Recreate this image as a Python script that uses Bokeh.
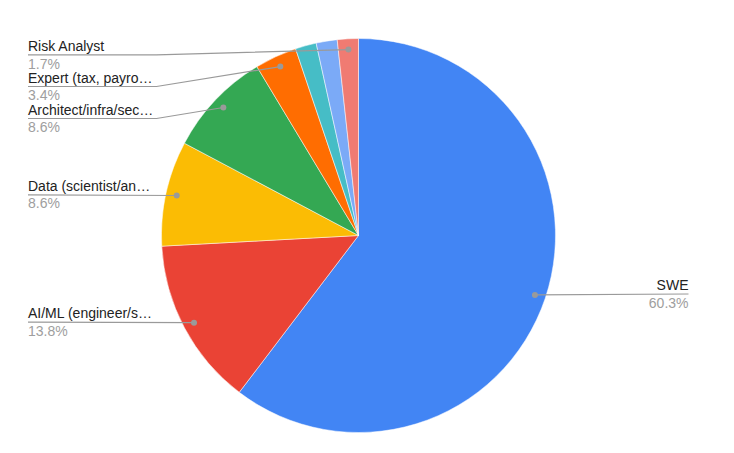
import math
from bokeh.plotting import figure
from bokeh.models import Range1d, ColumnDataSource
from bokeh.embed import file_html
from bokeh.resources import INLINE
from bokeh.core.properties import value

# ---- data ----
categories = ["SWE", "AI/ML (engineer/s…", "Data (scientist/an…", "Architect/infra/sec…",
              "Expert (tax, payro…", "Other A", "Other B", "Risk Analyst"]
counts = [35, 8, 5, 5, 2, 1, 1, 1]
colors = ["#4285F4", "#EA4335", "#FBBC04", "#34A853", "#FF6D01", "#46BDC6", "#7BAAF7", "#F07B72"]
show_label = [True, True, True, True, True, False, False, True]

# ---- layout (image pixels from the top-left of the window) ----
W, H, M = 734, 453, 8
CX, CY, R = 358, 235, 197
DOT_R = 0.945 * R
label_line_y = [293.5, 321.6, 194.3, 118.0, 86.0, None, None, 54.4]
LEFT_X, LEFT_BREAK, RIGHT_X = 27.5, 156, 688
FONT = value("Liberation Sans")
FS = "14px"

def Y(img_y):
    return H - img_y

p = figure(width=W - 2 * M, height=H - 2 * M, output_backend="svg", toolbar_location=None,
           x_range=Range1d(0, W - 2 * M), y_range=Range1d(2 * M, H),
           x_axis_location=None, y_axis_location=None, min_border=0)
p.grid.visible = False
p.outline_line_color = None
p.background_fill_color = "white"
p.border_fill_color = "white"

total = sum(counts)
starts, ends, mids = [], [], []
cum = 0
for c in counts:
    f0 = cum / total
    cum += c
    f1 = cum / total
    starts.append(math.pi / 2 - 2 * math.pi * f0)
    ends.append(math.pi / 2 - 2 * math.pi * f1)
    mids.append((f0 + f1) / 2)

src = ColumnDataSource(dict(start=starts, end=ends, color=colors, cat=categories))
p.wedge(x=CX, y=Y(CY), radius=R, start_angle="start", end_angle="end", direction="clock",
        fill_color="color", line_color="white", line_width=0.5, source=src)

lx, ly, dx, dy = [], [], [], []
nx, ny, nt, na = [], [], [], []
px_, py_, pt, pa = [], [], [], []
for i, cat in enumerate(categories):
    if not show_label[i]:
        continue
    ang = 2 * math.pi * mids[i]
    dot_x = CX + DOT_R * math.sin(ang)
    dot_y = CY - DOT_R * math.cos(ang)
    yl = label_line_y[i]
    dx.append(dot_x); dy.append(Y(dot_y))
    pct = "%.1f%%" % (100.0 * counts[i] / total)
    if dot_x < CX:
        if abs(yl - dot_y) < 1.5:
            xs = [LEFT_X, dot_x]; ys = [Y(yl), Y(dot_y)]
        else:
            xs = [LEFT_X, LEFT_BREAK, dot_x]; ys = [Y(yl), Y(yl), Y(dot_y)]
        tx, align = LEFT_X, "left"
    else:
        xs = [dot_x, RIGHT_X]; ys = [Y(dot_y), Y(yl)]
        tx, align = RIGHT_X, "right"
    lx.append(xs); ly.append(ys)
    nx.append(tx); ny.append(Y(yl - 9.0)); nt.append(cat); na.append(align)
    px_.append(tx); py_.append(Y(yl + 8.6)); pt.append(pct); pa.append(align)

p.multi_line(xs=lx, ys=ly, line_color="#9a9a9a", line_width=1.2)
p.scatter(x=dx, y=dy, size=6, marker="circle", fill_color="#9a9a9a", line_color=None)
p.text(x=nx, y=ny, text=nt, text_align=na, text_baseline="middle",
       text_font=FONT, text_font_size=FS, text_color="#222222")
p.text(x=px_, y=py_, text=pt, text_align=pa, text_baseline="middle",
       text_font=FONT, text_font_size=FS, text_color="#9e9e9e")

open("out.html", "w").write(file_html(p, INLINE))
